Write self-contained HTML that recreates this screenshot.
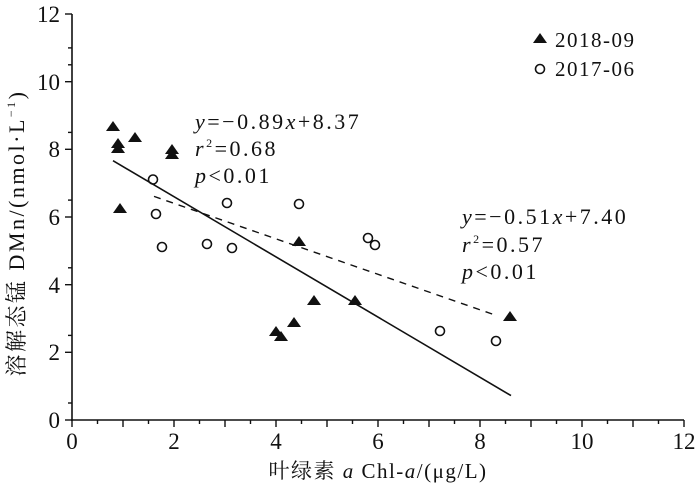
<!DOCTYPE html>
<html><head><meta charset="utf-8"><style>
body{margin:0;background:#fff}
svg text{font-family:"Liberation Serif","Noto Serif CJK SC",serif;fill:#111}
</style></head><body>
<svg width="700" height="490" xmlns="http://www.w3.org/2000/svg">
<g stroke="#111" stroke-width="1.6" fill="none">
<line x1="72" y1="14" x2="72" y2="421"/>
<line x1="71" y1="420" x2="684" y2="420"/>
</g>
<g stroke="#111" stroke-width="1.4">
<line x1="65" y1="420" x2="72" y2="420"/><line x1="68" y1="403" x2="72" y2="403"/>
<line x1="65" y1="352.3" x2="72" y2="352.3"/><line x1="68" y1="335.4" x2="72" y2="335.4"/>
<line x1="65" y1="284.7" x2="72" y2="284.7"/><line x1="68" y1="267.8" x2="72" y2="267.8"/>
<line x1="65" y1="217" x2="72" y2="217"/><line x1="68" y1="200.1" x2="72" y2="200.1"/>
<line x1="65" y1="149.3" x2="72" y2="149.3"/><line x1="68" y1="132.4" x2="72" y2="132.4"/>
<line x1="65" y1="81.7" x2="72" y2="81.7"/><line x1="68" y1="64.8" x2="72" y2="64.8"/>
<line x1="65" y1="14" x2="72" y2="14"/><line x1="68" y1="47.9" x2="72" y2="47.9"/>
<line x1="72" y1="420" x2="72" y2="427"/><line x1="97.5" y1="420" x2="97.5" y2="424"/>
<line x1="123" y1="420" x2="123" y2="427"/><line x1="148.5" y1="420" x2="148.5" y2="424"/>
<line x1="174" y1="420" x2="174" y2="427"/><line x1="199.5" y1="420" x2="199.5" y2="424"/>
<line x1="225" y1="420" x2="225" y2="427"/><line x1="250.5" y1="420" x2="250.5" y2="424"/>
<line x1="276" y1="420" x2="276" y2="427"/><line x1="301.5" y1="420" x2="301.5" y2="424"/>
<line x1="327" y1="420" x2="327" y2="427"/><line x1="352.5" y1="420" x2="352.5" y2="424"/>
<line x1="378" y1="420" x2="378" y2="427"/><line x1="403.5" y1="420" x2="403.5" y2="424"/>
<line x1="429" y1="420" x2="429" y2="427"/><line x1="454.5" y1="420" x2="454.5" y2="424"/>
<line x1="480" y1="420" x2="480" y2="427"/><line x1="505.5" y1="420" x2="505.5" y2="424"/>
<line x1="531" y1="420" x2="531" y2="427"/><line x1="556.5" y1="420" x2="556.5" y2="424"/>
<line x1="582" y1="420" x2="582" y2="427"/><line x1="607.5" y1="420" x2="607.5" y2="424"/>
<line x1="633" y1="420" x2="633" y2="427"/><line x1="658.5" y1="420" x2="658.5" y2="424"/>
<line x1="684" y1="420" x2="684" y2="427"/>
</g>
<g font-size="23" text-anchor="end">
<text x="60" y="428">0</text><text x="60" y="360">2</text><text x="60" y="293">4</text>
<text x="60" y="225">6</text><text x="60" y="157">8</text><text x="60" y="90">10</text><text x="60" y="22">12</text>
</g>
<g font-size="23" text-anchor="middle">
<text x="72" y="449">0</text><text x="174" y="449">2</text><text x="276" y="449">4</text>
<text x="378" y="449">6</text><text x="480" y="449">8</text><text x="582" y="449">10</text><text x="684" y="449">12</text>
</g>
<text x="378" y="478" font-size="21" letter-spacing="1.5" text-anchor="middle">叶绿素 <tspan font-style="italic">a</tspan> Chl-<tspan font-style="italic">a</tspan>/(μg/L)</text>
<text transform="translate(24,233) rotate(-90)" font-size="22" letter-spacing="2.5" text-anchor="middle">溶解态锰 DMn/(nmol·L<tspan font-size="12" dy="-9">−1</tspan><tspan dy="9">)</tspan></text>
<line x1="113" y1="160.7" x2="511" y2="395.6" stroke="#111" stroke-width="1.6"/>
<line x1="154" y1="196.4" x2="495" y2="315" stroke="#111" stroke-width="1.4" stroke-dasharray="7,6"/>
<g fill="#111">
<path d="M113 121l7 10h-14z"/><path d="M118 138l7 10h-14z"/><path d="M118 143l7 10h-14z"/>
<path d="M120 203l7 10h-14z"/><path d="M135 132l7 10h-14z"/><path d="M172 144l7 10h-14z"/>
<path d="M172 149l7 10h-14z"/><path d="M299 236l7 10h-14z"/><path d="M314 295l7 10h-14z"/>
<path d="M355 295l7 10h-14z"/><path d="M276 326l7 10h-14z"/><path d="M281 331l7 10h-14z"/>
<path d="M294 317l7 10h-14z"/><path d="M510 311l7 10h-14z"/>
<path d="M540 33l7 10h-14z"/>
</g>
<g fill="none" stroke="#111" stroke-width="1.6">
<circle cx="153" cy="179.5" r="4.5"/><circle cx="156" cy="214" r="4.5"/><circle cx="162" cy="247" r="4.5"/>
<circle cx="207" cy="244" r="4.5"/><circle cx="227" cy="203" r="4.5"/><circle cx="232" cy="248" r="4.5"/>
<circle cx="299" cy="204" r="4.5"/><circle cx="368" cy="238" r="4.5"/><circle cx="375" cy="245" r="4.5"/>
<circle cx="440" cy="331" r="4.5"/><circle cx="496" cy="341" r="4.5"/>
<circle cx="540" cy="69" r="4.5"/>
</g>
<g font-size="21" letter-spacing="1.5">
<text x="555" y="47">2018-09</text><text x="555" y="76">2017-06</text>
</g>
<g font-size="22" letter-spacing="2.5">
<text x="195" y="129"><tspan font-style="italic">y</tspan>=−0.89<tspan font-style="italic">x</tspan>+8.37</text>
<text x="195" y="156"><tspan font-style="italic">r</tspan><tspan font-size="12" dy="-9">2</tspan><tspan dy="9">=0.68</tspan></text>
<text x="195" y="183"><tspan font-style="italic">p</tspan>&lt;0.01</text>
<text x="462" y="224"><tspan font-style="italic">y</tspan>=−0.51<tspan font-style="italic">x</tspan>+7.40</text>
<text x="462" y="252"><tspan font-style="italic">r</tspan><tspan font-size="12" dy="-9">2</tspan><tspan dy="9">=0.57</tspan></text>
<text x="462" y="279"><tspan font-style="italic">p</tspan>&lt;0.01</text>
</g>
</svg>
</body></html>
